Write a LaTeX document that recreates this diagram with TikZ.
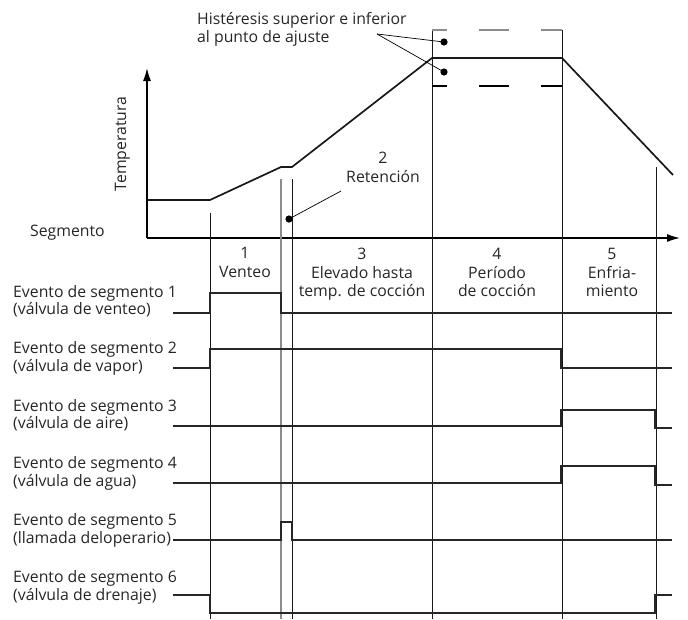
\documentclass[tikz,border=0pt]{standalone}
\usepackage{fontspec}
\setmainfont{Open Sans}
\usetikzlibrary{arrows.meta}
\begin{document}
\begin{tikzpicture}[x=1pt,y=-1pt,
  every node/.style={inner sep=0pt,font=\fontsize{15.8}{19}\selectfont,text=black!85},
  lbl/.style={anchor=base west},
  ctr/.style={anchor=base},
  sig/.style={line width=1.8pt,black!85},
  grid/.style={line width=0.9pt,black!90},
  ggrid/.style={line width=1.2pt,black!45},
  curve/.style={line width=1.7pt,black!90},
  axis/.style={line width=1.3pt,black,-{Latex[length=13pt,width=8pt]}},
  lead/.style={line width=0.7pt,black},
  hyst/.style={line width=1.3pt,dash pattern=on 30pt off 32pt,dash phase=15pt}]
\useasboundingbox (0,0) rectangle (688,619);
% axes
\coordinate (O) at (147,238);
\coordinate (ytip) at (147,68);
\coordinate (xtip) at (680,238);
\draw[axis] (O) -- (ytip);
\draw[axis] (O) -- (xtip);
% vertical segment lines
\draw[grid] (210,213) -- (210,619);
\draw[ggrid] (281,179) -- (281,619);
\draw[grid] (292,179) -- (292,619);
\draw[grid] (432,30) -- (432,619);
\draw[grid] (562,30) -- (562,619);
\draw[grid] (656,167) -- (656,619);
% hysteresis band
\draw[hyst,black!45] (432,30) -- (562,30);
\draw[hyst,black] (432,86) -- (562,86);
% temperature curve
\draw[curve,line join=miter] (147,200) -- (210,200) -- (281,167) -- (292,167) -- (432,58) -- (562,58) -- (673,175);
% dots and leaders
\fill (444,42) circle (3.6pt) coordinate (d1);
\fill (444,72) circle (3.6pt) coordinate (d2);
\coordinate (hl) at (377,34);
\draw[lead] (hl) -- (d1);
\draw[lead] (hl) -- (d2);
\fill (289,219) circle (3.6pt) coordinate (d3);
\coordinate (rl) at (341,191);
\draw[lead] (rl) -- (d3);
% texts top
\node[lbl] (h1) at (197,24) {Histéresis superior e inferior};
\node[lbl] (h2) at (197,42) {al punto de ajuste};
\node[ctr] (r1) at (383,163) {2};
\node[ctr] (r2) at (383,182) {Retención};
\node[anchor=base,rotate=90] (temp) at (126,144) {Temperatura};
\node[lbl] (segm) at (30,236) {Segmento};
% segment labels
\node[ctr] (s1a) at (245,258) {1};
\node[ctr] (s1b) at (245,277) {Venteo};
\node[ctr] (s3a) at (362,259) {3};
\node[ctr] (s3b) at (362,278) {Elevado hasta};
\node[ctr] (s3c) at (362,296) {temp. de cocción};
\node[ctr] (s4a) at (497,259) {4};
\node[ctr] (s4b) at (497,278) {Período};
\node[ctr] (s4c) at (497,296) {de cocción};
\node[ctr] (s5a) at (612,259) {5};
\node[ctr] (s5b) at (612,278) {Enfria-};
\node[ctr] (s5c) at (612,296) {miento};
% row labels
\node[lbl] (e1a) at (13,297) {Evento de segmento 1};
\node[lbl] (e1b) at (13,314) {(válvula de venteo)};
\node[lbl] (e2a) at (13,353) {Evento de segmento 2};
\node[lbl] (e2b) at (13,371) {(válvula de vapor)};
\node[lbl] (e3a) at (13,411) {Evento de segmento 3};
\node[lbl] (e3b) at (13,428) {(válvula de aire)};
\node[lbl] (e4a) at (13,468) {Evento de segmento 4};
\node[lbl] (e4b) at (13,486) {(válvula de agua)};
\node[lbl] (e5a) at (13,525) {Evento de segmento 5};
\node[lbl] (e5b) at (13,543) {(llamada deloperario)};
\node[lbl] (e6a) at (13,582) {Evento de segmento 6};
\node[lbl] (e6b) at (13,600) {(válvula de drenaje)};
% signals
\draw[sig] (173,313) -- (210,313) -- (210,293) -- (281,293) -- (281,313) -- (672,313);
\draw[sig] (173,368) -- (210,368) -- (210,349) -- (561,349) -- (561,368) -- (672,368);
\draw[sig] (173,426) -- (561,426) -- (561,410) -- (655,410) -- (655,428) -- (672,428);
\draw[sig] (173,483) -- (561,483) -- (561,466) -- (655,466) -- (655,485) -- (672,485);
\draw[sig] (173,540) -- (281,540) -- (281,522) -- (292,522) -- (292,540) -- (672,540);
\draw[sig] (173,595) -- (210,595) -- (210,613) -- (655,613) -- (655,595) -- (672,595);
\end{tikzpicture}
\end{document}
